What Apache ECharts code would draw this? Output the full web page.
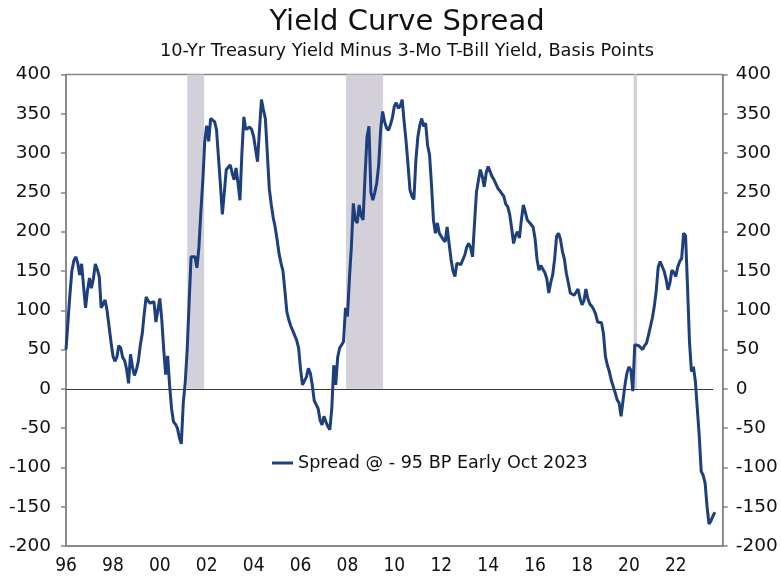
<!DOCTYPE html>
<html><head><meta charset="utf-8">
<script src="https://cdn.jsdelivr.net/npm/echarts@6/dist/echarts.min.js"></script>
<style>html,body{margin:0;padding:0;background:#fff}#c{width:781px;height:579px}</style>
</head><body><div id="c"></div>
<script>
// Monthly spread (bp), starting Jan 1996
const startYear = 1996;
const spread = [
50,85,120,150,163,168,160,145,159,130,103,125,
141,128,140,159,152,143,103,108,113,100,80,60,
42,35,40,55,52,40,36,25,7,44,28,17,
24,35,55,70,95,117,112,109,108,111,85,100,
115,88,50,18,42,5,-25,-42,-45,-50,-62,-70,
-18,8,50,110,168,170,168,154,180,225,265,315,
335,315,344,345,340,330,295,260,222,250,279,282,
285,275,266,281,262,240,300,346,330,332,333,330,
321,305,289,330,368,355,344,300,255,235,218,206,
190,172,160,150,125,98,88,80,74,68,62,52,
25,5,3,15,26,20,5,-15,-20,-25,-40,-46,
-35,-42,-48,-52,-25,30,5,40,52,54,60,103,
92,140,180,236,215,211,234,220,215,270,320,334,
250,240,250,262,285,330,353,340,332,329,336,345,
360,364,357,360,368,340,315,285,253,245,241,290,
320,335,344,334,338,310,298,260,215,198,211,198,
196,190,187,206,185,165,150,143,160,162,158,156,
170,180,185,180,168,210,250,265,279,270,257,275,
283,281,270,266,266,255,252,251,245,235,232,222,
205,185,195,200,192,215,234,225,215,212,211,206,
191,165,151,157,152,148,140,122,135,145,165,194,
198,190,175,165,147,135,122,120,119,117,127,115,
107,112,127,115,108,105,101,95,85,84,84,70,
41,30,22,11,3,-5,-14,-18,-35,-15,5,20,
28,24,-3,56,54,55,56,50,55,58,68,79,
90,105,125,155,162,162,150,140,126,135,151,148,
143,155,162,166,198,195,130,60,22,28,10,-25,
-60,-105,-110,-120,-150,-172,-168,-162,-157
];
const recessions = [[2001.17, 2001.89], [2007.94, 2009.52], [2020.2, 2020.35]];
const zeroLineEnd = 2023.6;
const xMin = 1996, xMax = 2024, xStep = 2;
const yMin = -200, yMax = 400, yStep = 50;
const seriesName = 'Spread @ - 95 BP Early Oct 2023';
const titleText = 'Yield Curve Spread';
const subText = '10-Yr Treasury Yield Minus 3-Mo T-Bill Yield, Basis Points';

const FONT = "'DejaVu Sans',sans-serif";
const FONT_C = "'DejaVu Sans Condensed','DejaVu Sans',sans-serif";
const data = spread.map((v, i) => [startYear + i / 12, v]);

const chart = echarts.init(document.getElementById('c'), null, {renderer: 'canvas'});
const axisLineStyle = {color: '#858585', width: 1.5};
const yAxisBase = {
  type: 'value', min: yMin, max: yMax, interval: yStep,
  axisLine: {show: true, lineStyle: axisLineStyle},
  axisTick: {show: true, length: 5, lineStyle: axisLineStyle},
  splitLine: {show: false},
};
chart.setOption({
  animation: false,
  backgroundColor: '#fff',
  title: [
    {text: titleText, left: 402, top: 3, textAlign: 'center',
     textStyle: {fontFamily: FONT, fontSize: 29, fontWeight: 'normal', color: '#111'}},
    {text: subText, left: 402, top: 37, textAlign: 'center',
     textStyle: {fontFamily: FONT, fontSize: 17.8, fontWeight: 'normal', color: '#111'}}
  ],
  legend: {
    left: 272, top: 454, padding: 0, icon: 'rect', itemWidth: 21, itemHeight: 3,
    textStyle: {fontFamily: FONT, fontSize: 17.6, color: '#111'},
    data: [seriesName]
  },
  grid: {left: 66, right: 58.3, top: 74.5, bottom: 33, show: true,
         borderColor: '#858585', borderWidth: 1.5, containLabel: false},
  xAxis: {
    type: 'value', min: xMin, max: xMax, interval: xStep,
    axisLine: {show: true, onZero: false, lineStyle: axisLineStyle},
    axisTick: {show: false},
    splitLine: {show: false},
    axisLabel: {
      showMaxLabel: false, margin: 11,
      fontFamily: FONT_C, fontSize: 19, color: '#111',
      formatter: v => String(v % 100).padStart(2, '0')
    }
  },
  yAxis: [
    Object.assign({}, yAxisBase, {position: 'left',
      axisLabel: {margin: 15, fontFamily: FONT, fontSize: 18.5, color: '#111'}}),
    Object.assign({}, yAxisBase, {position: 'right',
      axisLabel: {margin: 13, fontFamily: FONT, fontSize: 18.5, color: '#111'}})
  ],
  series: [
    {
      name: 'recessions', type: 'line', data: [], silent: true,
      markArea: {
        silent: true,
        itemStyle: {color: '#d3d0da'},
        data: recessions.map(r => [{xAxis: r[0], yAxis: 0}, {xAxis: r[1], yAxis: yMax}])
      },
      markLine: {
        silent: true, symbol: 'none', label: {show: false},
        lineStyle: {color: '#3a3a3a', width: 1.2, type: 'solid'},
        data: [[{coord: [xMin, 0]}, {coord: [zeroLineEnd, 0]}]]
      }
    },
    {
      name: seriesName, type: 'line', data: data,
      showSymbol: false, symbol: 'none',
      lineStyle: {color: '#1d3f7e', width: 3},
      itemStyle: {color: '#1d3f7e'},
      z: 5
    }
  ]
});
</script>
</body></html>
